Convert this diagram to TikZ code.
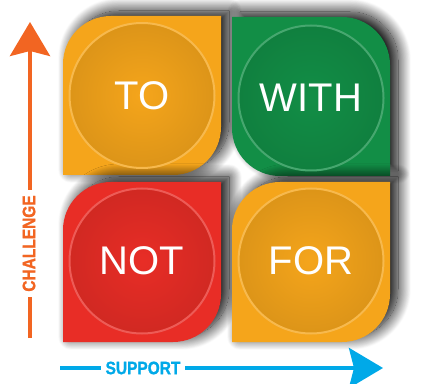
\documentclass[tikz,border=0pt]{standalone}
\usepackage{fontspec}
\setmainfont{Liberation Sans}
\newfontfamily\axisfont{Liberation Sans Bold}[FakeStretch=0.86, FakeBold=1.2]
\usetikzlibrary{arrows.meta,shadows.blur}

\definecolor{tileorange}{RGB}{245,165,27}
\definecolor{tilegreen}{RGB}{18,142,70}
\definecolor{tilered}{RGB}{232,45,38}
\definecolor{challenge}{RGB}{242,101,34}
\definecolor{support}{RGB}{0,169,232}

\begin{document}
\begin{tikzpicture}[x=1pt, y=1pt,
	tile/.style = {fill=#1, blur shadow={shadow xshift=8pt, shadow yshift=5pt, shadow blur radius=13pt,
		shadow blur steps=24, shadow opacity=100}},
	disc/.style = {circle, minimum size=145pt, inner sep=0pt, line width=2pt, draw=#1!78!white,
		inner color=#1, outer color=#1!90!black, text=white, font=\fontsize{40}{40}\selectfont},
	axis/.style = {line width=4pt, -{Stealth[length=34pt, width=40pt, inset=5pt]}},
	axislabel/.style = {fill=white, inner sep=5pt, font=\axisfont\fontsize{18}{18}\selectfont},]
	
	\useasboundingbox (0,0) rectangle (430,383);
	
	% the four tiles
	\path[tile=tileorange] (63,208) -- (63,319) arc[start angle=180, end angle=90, radius=48pt]
		-- (221,367) -- (221,256) arc[start angle=0, end angle=-90, radius=48pt] -- cycle;
	\path[tile=tilegreen] (232,255) -- (232,366) -- (342,366) arc[start angle=90, end angle=0, radius=48pt]
		-- (390,207) -- (280,207) arc[start angle=270, end angle=180, radius=48pt] -- cycle;
	\path[tile=tilered] (63,41) -- (63,153) arc[start angle=180, end angle=90, radius=48pt]
		-- (221,201) -- (221,89) arc[start angle=0, end angle=-90, radius=48pt] -- cycle;
	\path[tile=tileorange] (232,41) -- (232,153) arc[start angle=180, end angle=90, radius=48pt]
		-- (390,201) -- (390,89) arc[start angle=0, end angle=-90, radius=48pt] -- cycle;
	
	\node[disc=tileorange] (to) at (142,287.5) {TO};
	\node[disc=tilegreen] (with) at (311,285) {WITH};
	\node[disc=tilered] (not) at (142,122) {NOT};
	\node[disc=tileorange] (for) at (311,122) {FOR};
	
	% axes
	\coordinate (c0) at (30,45);
	\coordinate (c1) at (30,361);
	\coordinate (s0) at (60,15);
	\coordinate (s1) at (383,15);
	
	\draw[axis, draw=challenge, fill=challenge] (c0) -- (c1);
	\draw[axis, draw=support, fill=support] (s0) -- (s1);
	
	\node[axislabel, text=challenge, rotate=90] (chal) at (29,139.5) {CHALLENGE};
	\node[axislabel, text=support] (supp) at (143,15) {SUPPORT};
	
\end{tikzpicture}
\end{document}
